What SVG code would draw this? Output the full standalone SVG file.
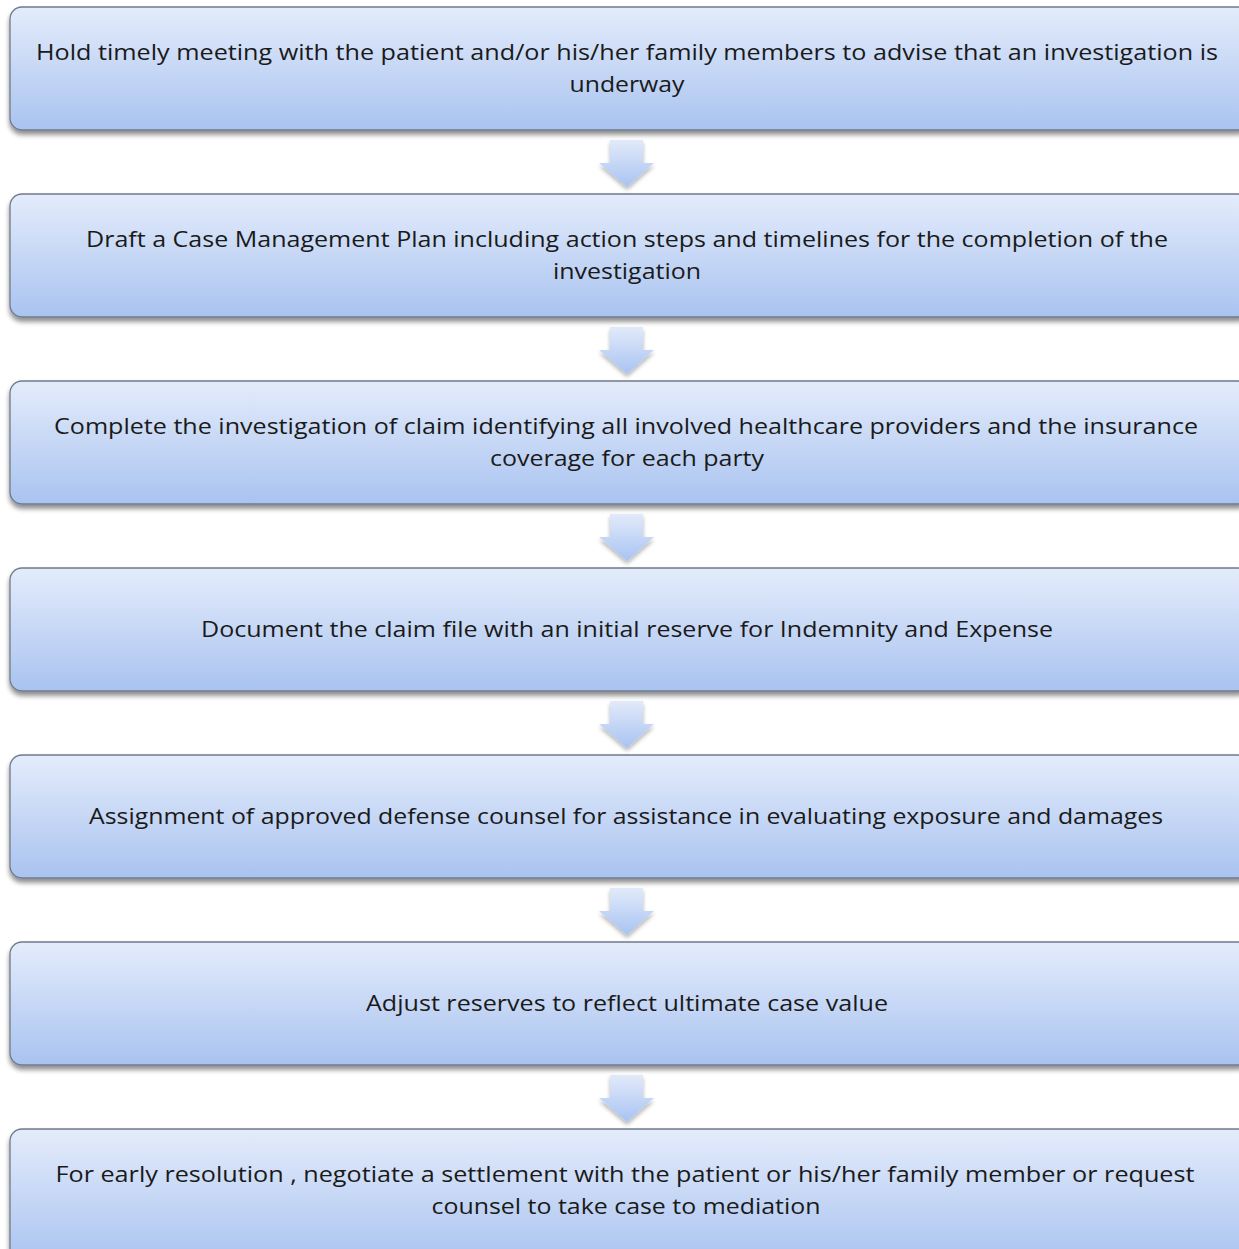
<svg xmlns="http://www.w3.org/2000/svg" width="1239" height="1249" viewBox="0 0 1239 1249">
<defs>
<linearGradient id="bg" x1="0" y1="0" x2="0" y2="1">
<stop offset="0" stop-color="#e4ecfb"/>
<stop offset="1" stop-color="#a9c3f0"/>
</linearGradient>
<linearGradient id="ag" x1="0" y1="0" x2="0" y2="1">
<stop offset="0" stop-color="#e2eafa"/>
<stop offset="1" stop-color="#a8c3f2"/>
</linearGradient>
<filter id="sh" x="-5%" y="-10%" width="110%" height="130%">
<feGaussianBlur in="SourceAlpha" stdDeviation="2.5"/>
<feOffset dx="0" dy="4" result="b"/>
<feComponentTransfer><feFuncA type="linear" slope="0.45"/></feComponentTransfer>
<feMerge><feMergeNode/><feMergeNode in="SourceGraphic"/></feMerge>
</filter>
<filter id="ash" x="-30%" y="-30%" width="160%" height="170%">
<feGaussianBlur in="SourceAlpha" stdDeviation="2"/>
<feOffset dx="0" dy="3"/>
<feComponentTransfer><feFuncA type="linear" slope="0.3"/></feComponentTransfer>
<feMerge><feMergeNode/><feMergeNode in="SourceGraphic"/></feMerge>
</filter>
<path id="arr" d="M-17,0 H16 V23 H27 L0,47 L-28,23 H-17 Z"/>
</defs>
<style>
.box{fill:url(#bg);stroke:#707a8c;stroke-width:1.3;filter:url(#sh)}
.t{font-family:"Open Sans","Noto Sans",sans-serif;font-size:22px;fill:#1a1a1a;text-anchor:middle}
.a{fill:url(#ag);filter:url(#ash)}
</style>
<rect width="1239" height="1249" fill="#ffffff"/>
<g id="connectors">
<use href="#arr" x="627" y="140" class="a"/>
<use href="#arr" x="627" y="327" class="a"/>
<use href="#arr" x="627" y="514" class="a"/>
<use href="#arr" x="627" y="701" class="a"/>
<use href="#arr" x="627" y="888" class="a"/>
<use href="#arr" x="627" y="1075" class="a"/>
</g>
<g id="n1">
<rect class="box" x="10" y="7" width="1240" height="123" rx="12"/>
<text class="t" x="627" y="60" textLength="1182" lengthAdjust="spacingAndGlyphs">Hold timely meeting with the patient and/or his/her family members to advise that an investigation is</text>
<text class="t" x="627" y="92" textLength="115" lengthAdjust="spacingAndGlyphs">underway</text>
</g>
<g id="n2">
<rect class="box" x="10" y="194" width="1240" height="123" rx="12"/>
<text class="t" x="627" y="247" textLength="1082" lengthAdjust="spacingAndGlyphs">Draft a Case Management Plan including action steps and timelines for the completion of the</text>
<text class="t" x="627" y="279" textLength="148" lengthAdjust="spacingAndGlyphs">investigation</text>
</g>
<g id="n3">
<rect class="box" x="10" y="381" width="1240" height="123" rx="12"/>
<text class="t" x="626" y="434" textLength="1144" lengthAdjust="spacingAndGlyphs">Complete the investigation of claim identifying all involved healthcare providers and the insurance</text>
<text class="t" x="627" y="466" textLength="274" lengthAdjust="spacingAndGlyphs">coverage for each party</text>
</g>
<g id="n4">
<rect class="box" x="10" y="568" width="1240" height="123" rx="12"/>
<text class="t" x="627" y="637" textLength="852" lengthAdjust="spacingAndGlyphs">Document the claim file with an initial reserve for Indemnity and Expense</text>
</g>
<g id="n5">
<rect class="box" x="10" y="755" width="1240" height="123" rx="12"/>
<text class="t" x="626" y="824" textLength="1074" lengthAdjust="spacingAndGlyphs">Assignment of approved defense counsel for assistance in evaluating exposure and damages</text>
</g>
<g id="n6">
<rect class="box" x="10" y="942" width="1240" height="123" rx="12"/>
<text class="t" x="627" y="1011" textLength="522" lengthAdjust="spacingAndGlyphs">Adjust reserves to reflect ultimate case value</text>
</g>
<g id="n7">
<rect class="box" x="10" y="1129" width="1240" height="135" rx="12"/>
<text class="t" x="625" y="1182" textLength="1139" lengthAdjust="spacingAndGlyphs">For early resolution , negotiate a settlement with the patient or his/her family member or request</text>
<text class="t" x="626" y="1214" textLength="389" lengthAdjust="spacingAndGlyphs">counsel to take case to mediation</text>
</g>
</svg>
